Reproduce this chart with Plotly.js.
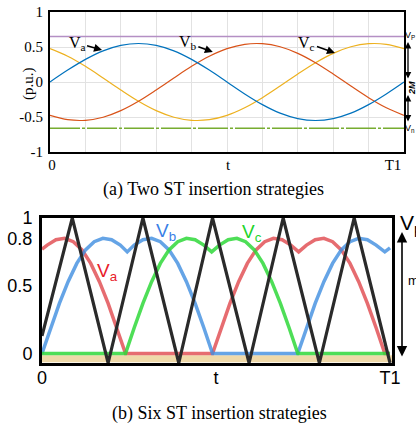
<!DOCTYPE html>
<html>
<head>
<meta charset="utf-8">
<script src="https://cdn.plot.ly/plotly-3.0.1.min.js"></script>
<style>html,body{margin:0;padding:0;background:#fff;overflow:hidden;}#chart{width:416px;height:429px;}</style>
</head>
<body>
<div id="chart"></div>
<script>
// ---------- Panel (a): Two ST insertion strategies ----------
const tA = [0,0.05,0.1,0.15,0.2,0.25,0.3,0.35,0.4,0.45,0.5,0.55,0.6,0.65,0.7,0.75,0.8,0.85,0.9,0.95,1];
const vaA = [0,0.17,0.323,0.445,0.523,0.55,0.523,0.445,0.323,0.17,0,-0.17,-0.323,-0.445,-0.523,-0.55,-0.523,-0.445,-0.323,-0.17,0];
const vbA = [-0.476,-0.538,-0.547,-0.503,-0.409,-0.275,-0.114,0.058,0.224,0.368,0.476,0.538,0.547,0.503,0.409,0.275,0.114,-0.058,-0.224,-0.368,-0.476];
const vcA = [0.476,0.368,0.224,0.058,-0.114,-0.275,-0.409,-0.503,-0.547,-0.538,-0.476,-0.368,-0.224,-0.058,0.114,0.275,0.409,0.503,0.547,0.538,0.476];
const vpLevel = [0.65,0.65];
const vnLevel = [-0.66,-0.66];
const levelT = [0,1];
const yTicksA = [-1,-0.5,0,0.5,1];
const yTickTextA = ['-1','-0.5','0','0.5','1'];
const xTicksA = [0.006,0.503,0.969];
const xTickTextA = ['0','t','T1'];

// ---------- Panel (b): Six ST insertion strategies ----------
const redX = [0,0.015,0.04,0.065,0.09,0.115,0.14,0.165,0.19,0.215,0.24,0.49,0.515,0.54,0.565,0.59,0.615,0.64,0.665,0.69,0.715,0.7375,0.76,0.785,0.81,0.835,0.86,0.885,0.91,0.935,0.96,0.985,1.0];
const redY = [0.77,0.80,0.84,0.85,0.825,0.765,0.665,0.53,0.37,0.19,0,0,0.19,0.37,0.53,0.665,0.765,0.825,0.85,0.84,0.80,0.75,0.80,0.84,0.85,0.825,0.765,0.665,0.53,0.37,0.19,0,0];
const blueX = [0,0.025,0.05,0.075,0.1,0.125,0.15,0.175,0.2,0.225,0.245,0.265,0.29,0.315,0.34,0.365,0.39,0.415,0.44,0.465,0.49,0.735,0.76,0.785,0.81,0.835,0.86,0.885,0.91,0.935,0.96,0.985,1.0];
const blueY = [0,0.19,0.37,0.53,0.665,0.765,0.825,0.85,0.84,0.80,0.75,0.80,0.84,0.85,0.825,0.765,0.665,0.53,0.37,0.19,0,0,0.19,0.37,0.53,0.665,0.765,0.825,0.85,0.84,0.80,0.75,0.78];
const greenX = [0,0.24,0.265,0.29,0.315,0.34,0.365,0.39,0.415,0.44,0.465,0.4875,0.51,0.535,0.56,0.585,0.61,0.635,0.66,0.685,0.71,0.735,1.0];
const greenY = [0,0,0.19,0.37,0.53,0.665,0.765,0.825,0.85,0.84,0.80,0.75,0.80,0.84,0.85,0.825,0.765,0.665,0.53,0.37,0.19,0,0];
const triX = [0,0.087,0.19,0.29,0.393,0.49,0.595,0.693,0.797,0.897,1.0];
const triY = [0.13,1,-0.07,1,-0.07,1,-0.07,1,-0.07,1,-0.07];
const baseX = [0,1.0057];
const baseY = [-0.038,-0.038];
const yTicksB = [0,0.5,0.845,1];
const yTickTextB = ['0','0.5','0.8','1'];
const xTicksB = [0,0.5,1.0];
const xTickTextB = ['0','t','T1'];

const W = 416, H = 429;
const px = v => v / W;
const py = v => 1 - v / H;

const serif = 'Liberation Serif, Times New Roman, serif';
const sans = 'Liberation Sans, Arial, sans-serif';

const traces = [
  {x: levelT, y: vpLevel, xaxis:'x', yaxis:'y', mode:'lines', line:{color:'#b48fc4', width:1.6}, hoverinfo:'skip'},
  {x: levelT, y: vnLevel, xaxis:'x', yaxis:'y', mode:'lines', line:{color:'#77AC30', width:1.4, dash:'30px,2px,3px,2px'}, hoverinfo:'skip'},
  {x: tA, y: vcA, xaxis:'x', yaxis:'y', mode:'lines', line:{color:'#EDB120', width:1.2, shape:'spline'}},
  {x: tA, y: vbA, xaxis:'x', yaxis:'y', mode:'lines', line:{color:'#D95319', width:1.2, shape:'spline'}},
  {x: tA, y: vaA, xaxis:'x', yaxis:'y', mode:'lines', line:{color:'#0072BD', width:1.2, shape:'spline'}},

  {x: baseX, y: baseY, xaxis:'x2', yaxis:'y2', mode:'lines', line:{color:'#efd9a9', width:7}, hoverinfo:'skip'},
  {x: redX, y: redY, xaxis:'x2', yaxis:'y2', mode:'lines', line:{color:'#e0474c', width:3.5}, opacity:0.8},
  {x: blueX, y: blueY, xaxis:'x2', yaxis:'y2', mode:'lines', line:{color:'#3f8de0', width:3.5}, opacity:0.8},
  {x: greenX, y: greenY, xaxis:'x2', yaxis:'y2', mode:'lines', line:{color:'#2fd83a', width:3.5}, opacity:0.85},
  {x: triX, y: triY, xaxis:'x2', yaxis:'y2', mode:'lines', line:{color:'#2a2a2a', width:3.2}}
];

const C = {xanchor:'center', yanchor:'middle', showarrow:false};
const annArrow = {showarrow:true, arrowhead:2, arrowsize:1, arrowwidth:1.6, arrowcolor:'#000'};
const dbl = {xref:'paper', yref:'paper', text:'', showarrow:true, arrowhead:2, arrowside:'end+start', arrowcolor:'#000', axref:'pixel', ayref:'pixel'};
const annotations = [
  Object.assign({xref:'x', yref:'y', x:0.147, y:0.457, ax:-25, ay:-7, text:'V<sub>a</sub>', font:{family:serif, size:16, color:'#000'}}, annArrow),
  Object.assign({xref:'x', yref:'y', x:0.46, y:0.429, ax:-25, ay:-9, text:'V<sub>b</sub>', font:{family:serif, size:16, color:'#000'}}, annArrow),
  Object.assign({xref:'x', yref:'y', x:0.805, y:0.414, ax:-28, ay:-10, text:'V<sub>c</sub>', font:{family:serif, size:16, color:'#000'}}, annArrow),
  Object.assign({xref:'paper', yref:'paper', x:px(28), y:py(84), text:'(p.u.)', textangle:-90, font:{family:serif, size:15, color:'#000'}}, C),
  Object.assign({xref:'paper', yref:'paper', x:px(410), y:py(35), text:'V<sub>P</sub>', font:{family:sans, size:9, color:'#000'}}, C),
  Object.assign({xref:'paper', yref:'paper', x:px(410), y:py(128), text:'V<sub>n</sub>', font:{family:sans, size:9, color:'#000'}}, C),
  Object.assign({xref:'paper', yref:'paper', x:px(412), y:py(88), text:'<b><i>2M</i></b>', textangle:-90, font:{family:sans, size:9, color:'#000'}}, C),
  Object.assign({x:px(408), y:py(42), ax:0, ay:38, arrowsize:1, arrowwidth:1.3}, dbl),
  Object.assign({x:px(408), y:py(95), ax:0, ay:28, arrowsize:1, arrowwidth:1.3}, dbl),
  Object.assign({xref:'paper', yref:'paper', x:px(214), y:py(189), text:'(a) Two ST insertion strategies', font:{family:serif, size:18, color:'#000'}}, C),

  Object.assign({xref:'x2', yref:'y2', x:0.187, y:0.60, text:'V<sub>a</sub>', font:{family:sans, size:19, color:'#e8202a'}}, C),
  Object.assign({xref:'x2', yref:'y2', x:0.356, y:0.90, text:'V<sub>b</sub>', font:{family:sans, size:19, color:'#3a7fe6'}}, C),
  Object.assign({xref:'x2', yref:'y2', x:0.603, y:0.89, text:'V<sub>c</sub>', font:{family:sans, size:19, color:'#21d42a'}}, C),
  Object.assign({xref:'paper', yref:'paper', x:px(398), y:py(224), text:'V<sub>p</sub>', font:{family:sans, size:21, color:'#000'}}, C, {xanchor:'left'}),
  Object.assign({xref:'paper', yref:'paper', x:px(406), y:py(280), text:'m', font:{family:sans, size:13, color:'#000'}}, C, {xanchor:'left'}),
  Object.assign({x:px(402), y:py(232), ax:0, ay:126, arrowsize:1.3, arrowwidth:1.6}, dbl),
  Object.assign({xref:'paper', yref:'paper', x:px(219), y:py(413), text:'(b) Six ST insertion strategies', font:{family:serif, size:18, color:'#000'}}, C)
];

const layout = {
  width: W, height: H,
  margin: {l:0, r:0, t:0, b:0, pad:0, autoexpand:false},
  paper_bgcolor:'#fff', plot_bgcolor:'#fff',
  showlegend:false,
  xaxis: {
    domain:[px(50), px(404)], range:[0,1], anchor:'y', automargin:false,
    showline:true, mirror:true, linecolor:'#000', linewidth:2,
    showgrid:false, zeroline:false, ticks:'',
    tickvals:xTicksA, ticktext:xTickTextA,
    tickfont:{family:serif, size:15, color:'#000'},
    ticklabelstandoff:-2,
    minor:{tick0:0, dtick:0.1, showgrid:true, gridcolor:'#e2e2e2', gridwidth:1, ticks:''}
  },
  yaxis: {
    domain:[py(152), py(12)], range:[-1,1], anchor:'x', automargin:false,
    showline:true, mirror:true, linecolor:'#000', linewidth:2,
    showgrid:true, gridcolor:'#e2e2e2', zeroline:false, ticks:'',
    tickvals:yTicksA, ticktext:yTickTextA,
    tickfont:{family:serif, size:15, color:'#000'},
    ticklabelstandoff:2
  },
  xaxis2: {
    domain:[px(42), px(392)], range:[0,1.0057], anchor:'y2', automargin:false,
    showline:true, mirror:true, linecolor:'#000', linewidth:3,
    showgrid:false, zeroline:false, ticks:'',
    tickvals:xTicksB, ticktext:xTickTextB,
    tickfont:{family:sans, size:18, color:'#000'},
    ticklabelstandoff:-4
  },
  yaxis2: {
    domain:[py(363), py(218)], range:[-0.07,1], anchor:'x2', automargin:false,
    showline:true, mirror:true, linecolor:'#000', linewidth:3,
    showgrid:false, zeroline:false, ticks:'',
    tickvals:yTicksB, ticktext:yTickTextB,
    tickfont:{family:sans, size:18, color:'#000'},
    ticklabelstandoff:3
  },
  annotations: annotations
};

Plotly.newPlot('chart', traces, layout, {staticPlot:true, displayModeBar:false});
</script>
</body>
</html>
